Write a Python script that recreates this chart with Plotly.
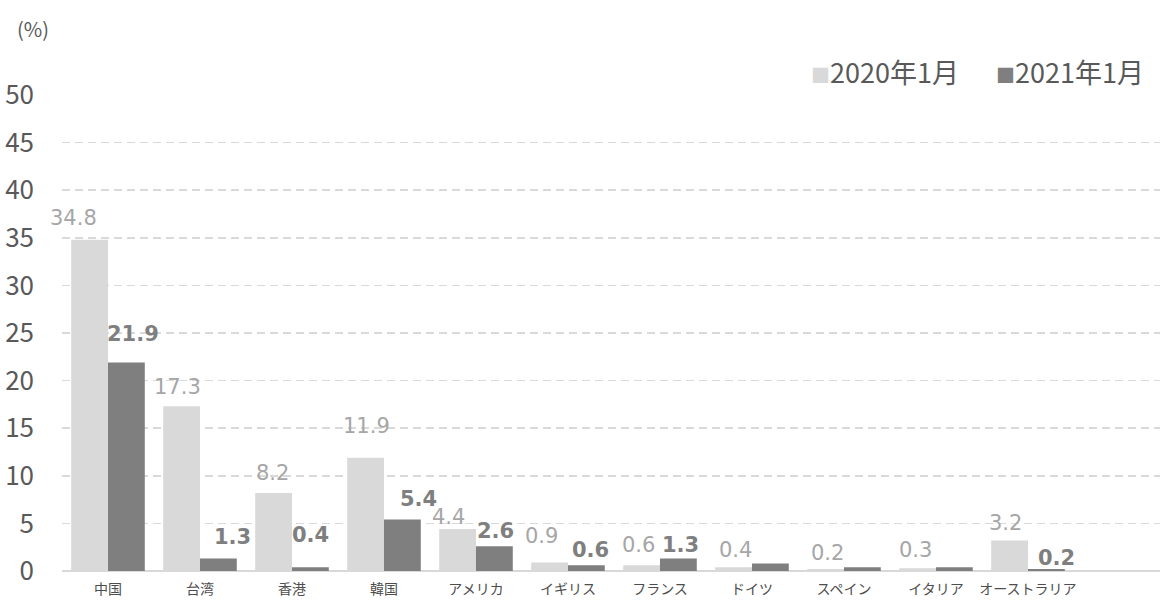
import plotly.graph_objects as go

# ---- data ----
categories = ["中国", "台湾", "香港", "韓国", "アメリカ", "イギリス", "フランス",
              "ドイツ", "スペイン", "イタリア", "オーストラリア"]
series_names = ["2020年1月", "2021年1月"]
values_2020 = [34.8, 17.3, 8.2, 11.9, 4.4, 0.9, 0.6, 0.4, 0.2, 0.3, 3.2]
values_2021 = [21.9, 1.3, 0.4, 5.4, 2.6, 0.6, 1.3, 0.8, 0.4, 0.4, 0.2]
y_ticks = [0, 5, 10, 15, 20, 25, 30, 35, 40, 45, 50]
unit_label = "(%)"

# ---- style ----
bar_colors = ["#d9d9d9", "#7f7f7f"]
label_colors = ["#a6a6a6", "#7f7f7f"]
label_bold = [False, True]
# pixel offsets of each value label from the bar top (dx, rise); None = hidden
offsets_2020 = [(-16, 22), (-4, 19), (-1, 20), (1, 32), (-9, 12), (-8, 26),
                (-3, 20), (2, 17), (2, 16), (-2, 18), (-4, 18)]
offsets_2021 = [(7, 29), (14, 22), (0, 32), (16, 21), (1, 15), (4, 15),
                (2, 14), None, None, None, (10, 11)]

W, H = 1162, 606
ML, MR, MT, MB = 62, 2, 95, 35
PW, PH = W - ML - MR, H - MT - MB
num_font = "DejaVu Sans, Verdana, Noto Sans CJK JP"
jp_font = "Noto Sans CJK JP, Meiryo, sans-serif"


def px_to_paper_x(px):
    return (px - ML) / PW


def px_to_paper_y(py):
    return 1 - (py - MT) / PH


x_idx = list(range(len(categories)))
series_vals = [values_2020, values_2021]
series_offsets = [offsets_2020, offsets_2021]

fig = go.Figure()
for name, vals, col in zip(series_names, series_vals, bar_colors):
    fig.add_trace(go.Bar(x=x_idx, y=vals, name=name, marker=dict(color=col, line=dict(width=0)),
                         hoverinfo="skip", showlegend=False))

annotations = []
for s, (vals, offs) in enumerate(zip(series_vals, series_offsets)):
    shift = -0.2 if s == 0 else 0.2
    for i, (v, off) in enumerate(zip(vals, offs)):
        if off is None:
            continue
        txt = f"{v:.1f}"
        if label_bold[s]:
            txt = f"<b>{txt}</b>"
        annotations.append(dict(
            x=i + shift, y=v, xref="x", yref="y", text=txt, showarrow=False,
            xanchor="center", yanchor="middle", xshift=off[0], yshift=off[1],
            font=dict(family=num_font, size=21, color=label_colors[s])))

# unit label
annotations.append(dict(x=px_to_paper_x(33), y=px_to_paper_y(28), xref="paper", yref="paper",
                        xanchor="center", yanchor="middle", text=unit_label, showarrow=False,
                        font=dict(family=jp_font, size=20, color="#595959")))

# custom legend
legend_x = [809, 994]
for name, col, lx in zip(series_names, bar_colors, legend_x):
    annotations.append(dict(
        x=px_to_paper_x(lx), y=px_to_paper_y(72),
        xref="paper", yref="paper", xanchor="left", yanchor="middle", showarrow=False,
        text=f"<span style='color:{col};font-size:19px'>■</span>{name}",
        font=dict(family=jp_font, size=27, color="#595959")))

fig.update_layout(
    width=W, height=H,
    margin=dict(l=ML, r=MR, t=MT, b=MB),
    paper_bgcolor="white", plot_bgcolor="white",
    barmode="group", bargap=0.2, bargroupgap=0,
    annotations=annotations,
    showlegend=False,
    xaxis=dict(range=[-0.5, 11.435], tickmode="array", tickvals=x_idx, ticktext=categories,
               showgrid=False, showline=False, zeroline=False, ticks="", automargin=False,
               tickfont=dict(family=jp_font, size=14, color="#4d4d4d"),
               ticklabelstandoff=8, fixedrange=True),
    yaxis=dict(range=[0, 50], tickmode="array", tickvals=y_ticks, showline=False,
               gridcolor="#d9d9d9", gridwidth=1.5, griddash="8px,5px",
               zeroline=True, zerolinecolor="#d9d9d9", zerolinewidth=2, automargin=False,
               ticks="", tickfont=dict(family=jp_font, size=26, color="#595959"),
               ticklabelstandoff=27, fixedrange=True),
)

fig.write_html("out.html", config={"displayModeBar": False, "staticPlot": True},
               post_script="document.body.style.margin='0';document.body.style.overflow='hidden';")
